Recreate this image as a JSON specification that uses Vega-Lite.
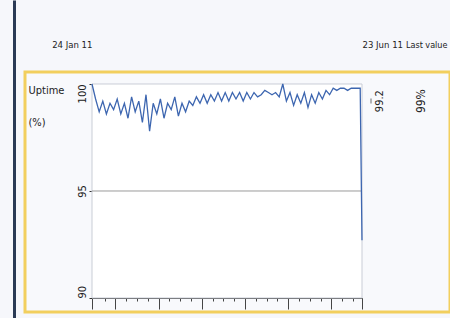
{
  "$schema": "https://vega.github.io/schema/vega-lite/v6.json",
  "width": 425,
  "height": 240,
  "autosize": "none",
  "padding": {"left": 25, "top": 72, "right": 0, "bottom": 6},
  "background": "#f6f7fb",
  "view": {"fill": "#f8f9fc", "stroke": "#f2cf5e", "strokeWidth": 3},
  "config": {
    "font": "DejaVu Sans Condensed, Liberation Sans Narrow, sans-serif",
    "axis": {"grid": false, "labelFont": "DejaVu Sans Condensed, Liberation Sans Narrow, sans-serif", "labelColor": "#222", "titleColor": "#222"}
  },
  "datasets": {
    "frame": [{"start": "2011-01-24", "end": "2011-06-23", "lo": 90, "hi": 100}],
    "grid": [{"start": "2011-01-24", "end": "2011-06-23", "level": 95}],
    "current": [{"date": "2011-06-23", "value": 99.2, "text": "99.2", "status": "99%"}],
    "series": [
      {"date": "2011-01-24", "value": 100},
      {"date": "2011-01-26", "value": 99.3},
      {"date": "2011-01-28", "value": 98.7},
      {"date": "2011-01-30", "value": 99.2},
      {"date": "2011-02-01", "value": 98.6},
      {"date": "2011-02-03", "value": 99.1},
      {"date": "2011-02-05", "value": 98.8},
      {"date": "2011-02-07", "value": 99.3},
      {"date": "2011-02-09", "value": 98.6},
      {"date": "2011-02-11", "value": 99.1},
      {"date": "2011-02-13", "value": 98.4},
      {"date": "2011-02-15", "value": 99.4},
      {"date": "2011-02-17", "value": 98.7},
      {"date": "2011-02-19", "value": 99.2},
      {"date": "2011-02-21", "value": 98.2},
      {"date": "2011-02-23", "value": 99.5},
      {"date": "2011-02-25", "value": 97.8},
      {"date": "2011-02-27", "value": 99.1},
      {"date": "2011-03-01", "value": 98.6},
      {"date": "2011-03-03", "value": 99.3},
      {"date": "2011-03-05", "value": 98.4},
      {"date": "2011-03-07", "value": 99.1},
      {"date": "2011-03-09", "value": 98.8},
      {"date": "2011-03-11", "value": 99.4},
      {"date": "2011-03-13", "value": 98.5},
      {"date": "2011-03-15", "value": 99.1},
      {"date": "2011-03-17", "value": 98.7},
      {"date": "2011-03-19", "value": 99.2},
      {"date": "2011-03-21", "value": 99.0},
      {"date": "2011-03-23", "value": 99.4},
      {"date": "2011-03-25", "value": 99.1},
      {"date": "2011-03-27", "value": 99.5},
      {"date": "2011-03-29", "value": 99.1},
      {"date": "2011-03-31", "value": 99.5},
      {"date": "2011-04-02", "value": 99.2},
      {"date": "2011-04-04", "value": 99.6},
      {"date": "2011-04-06", "value": 99.2},
      {"date": "2011-04-08", "value": 99.6},
      {"date": "2011-04-10", "value": 99.2},
      {"date": "2011-04-12", "value": 99.6},
      {"date": "2011-04-14", "value": 99.3},
      {"date": "2011-04-16", "value": 99.6},
      {"date": "2011-04-18", "value": 99.2},
      {"date": "2011-04-20", "value": 99.6},
      {"date": "2011-04-22", "value": 99.3},
      {"date": "2011-04-24", "value": 99.6},
      {"date": "2011-04-26", "value": 99.4},
      {"date": "2011-04-28", "value": 99.5},
      {"date": "2011-04-30", "value": 99.7},
      {"date": "2011-05-02", "value": 99.6},
      {"date": "2011-05-04", "value": 99.5},
      {"date": "2011-05-06", "value": 99.6},
      {"date": "2011-05-08", "value": 99.4},
      {"date": "2011-05-10", "value": 100},
      {"date": "2011-05-12", "value": 99.2},
      {"date": "2011-05-14", "value": 99.6},
      {"date": "2011-05-16", "value": 99.0},
      {"date": "2011-05-18", "value": 99.5},
      {"date": "2011-05-20", "value": 99.1},
      {"date": "2011-05-22", "value": 99.6},
      {"date": "2011-05-24", "value": 98.9},
      {"date": "2011-05-26", "value": 99.5},
      {"date": "2011-05-28", "value": 99.1},
      {"date": "2011-05-30", "value": 99.6},
      {"date": "2011-06-01", "value": 99.3},
      {"date": "2011-06-03", "value": 99.7},
      {"date": "2011-06-05", "value": 99.5},
      {"date": "2011-06-07", "value": 99.8},
      {"date": "2011-06-09", "value": 99.7},
      {"date": "2011-06-11", "value": 99.8},
      {"date": "2011-06-13", "value": 99.8},
      {"date": "2011-06-15", "value": 99.7},
      {"date": "2011-06-17", "value": 99.8},
      {"date": "2011-06-19", "value": 99.8},
      {"date": "2011-06-21", "value": 99.8},
      {"date": "2011-06-22", "value": 99.8},
      {"date": "2011-06-23", "value": 92.7}
    ]
  },
  "resolve": {"axis": {"x": "independent", "y": "independent"}},
  "layer": [
    {
      "data": {"name": "frame"},
      "mark": {"type": "rect", "fill": "white", "stroke": "#c9cdd6", "strokeWidth": 1},
      "encoding": {
        "x": {
          "field": "start", "type": "temporal",
          "scale": {"type": "utc", "domain": [{"year": 2011, "month": 1, "date": 24, "utc": true}, {"year": 2011, "month": 6, "date": 23, "utc": true}], "range": [67, 337], "nice": false},
          "axis": {
            "orient": "bottom", "offset": -14, "title": null, "labels": false,
            "domainColor": "#333", "tickColor": "#444", "tickWidth": 1,
            "values": [
              {"year": 2011, "month": 1, "date": 24, "utc": true},
              {"year": 2011, "month": 1, "date": 31, "utc": true},
              {"year": 2011, "month": 2, "date": 6, "utc": true},
              {"year": 2011, "month": 2, "date": 12, "utc": true},
              {"year": 2011, "month": 2, "date": 18, "utc": true},
              {"year": 2011, "month": 2, "date": 24, "utc": true},
              {"year": 2011, "month": 3, "date": 2, "utc": true},
              {"year": 2011, "month": 3, "date": 8, "utc": true},
              {"year": 2011, "month": 3, "date": 14, "utc": true},
              {"year": 2011, "month": 3, "date": 20, "utc": true},
              {"year": 2011, "month": 3, "date": 26, "utc": true},
              {"year": 2011, "month": 4, "date": 1, "utc": true},
              {"year": 2011, "month": 4, "date": 7, "utc": true},
              {"year": 2011, "month": 4, "date": 13, "utc": true},
              {"year": 2011, "month": 4, "date": 19, "utc": true},
              {"year": 2011, "month": 4, "date": 25, "utc": true},
              {"year": 2011, "month": 5, "date": 1, "utc": true},
              {"year": 2011, "month": 5, "date": 7, "utc": true},
              {"year": 2011, "month": 5, "date": 13, "utc": true},
              {"year": 2011, "month": 5, "date": 19, "utc": true},
              {"year": 2011, "month": 5, "date": 25, "utc": true},
              {"year": 2011, "month": 5, "date": 31, "utc": true},
              {"year": 2011, "month": 6, "date": 6, "utc": true},
              {"year": 2011, "month": 6, "date": 12, "utc": true},
              {"year": 2011, "month": 6, "date": 18, "utc": true},
              {"year": 2011, "month": 6, "date": 23, "utc": true}
            ],
            "tickSize": {"condition": {"test": "indexof([0,13,37,61,85,109,133,150], round((datum.value - utc(2011,0,24)) / 864e5)) >= 0", "value": 11}, "value": 3}
          }
        },
        "x2": {"field": "end"},
        "y": {
          "field": "lo", "type": "quantitative",
          "scale": {"domain": [89.065, 103.925], "range": [246, -72], "nice": false, "zero": false},
          "axis": {
            "orient": "left", "offset": -67, "domain": false, "values": [90, 95, 100],
            "tickSize": 3, "tickColor": "#333", "labelPadding": 2,
            "labelAngle": 270, "labelFontSize": 11, "labelBaseline": "bottom",
            "labelAlign": {"condition": [{"test": "datum.value == 100", "value": "right"}, {"test": "datum.value == 90", "value": "left"}], "value": "center"},
            "title": ["Uptime", "(%)"], "titleAngle": 0, "titleX": -64, "titleY": 12,
            "titleAlign": "left", "titleBaseline": "top", "titleFontWeight": "normal",
            "titleFontSize": 11, "titleLineHeight": 32,
            "titleFont": "DejaVu Sans Condensed, Liberation Sans Narrow, sans-serif"
          }
        },
        "y2": {"field": "hi"}
      }
    },
    {
      "data": {"name": "grid"},
      "mark": {"type": "rule", "color": "#9a9a9a", "strokeWidth": 1},
      "encoding": {
        "x": {"field": "start", "type": "temporal", "axis": null},
        "x2": {"field": "end"},
        "y": {
          "field": "level", "type": "quantitative",
          "axis": {"orient": "left", "offset": 11, "domainColor": "#2b3a55", "domainWidth": 3, "ticks": false, "labels": false, "title": null}
        }
      }
    },
    {
      "data": {"name": "series"},
      "mark": {"type": "line", "color": "#3d66b0", "strokeWidth": 1.3},
      "encoding": {
        "x": {
          "field": "date", "type": "temporal",
          "axis": {
            "orient": "top", "title": "Last value", "domain": false, "ticks": false, "tickSize": 0,
            "values": [{"year": 2011, "month": 1, "date": 24, "utc": true}, {"year": 2011, "month": 6, "date": 23, "utc": true}],
            "labelExpr": "utcFormat(datum.value, '%d %b %y')",
            "labelPadding": 23, "labelFontSize": 9.5, "labelBaseline": "bottom",
            "labelAlign": {"condition": {"test": "datum.value < utc(2011,3,1)", "value": "right"}, "value": "left"},
            "titleX": 422, "titleY": -23, "titleAlign": "right", "titleBaseline": "bottom",
            "titleFontWeight": "normal", "titleFontSize": 9, "titleAngle": 0,
            "titleFont": "DejaVu Sans Condensed, Liberation Sans Narrow, sans-serif"
          }
        },
        "y": {"field": "value", "type": "quantitative", "axis": null}
      }
    },
    {
      "data": {"name": "current"},
      "mark": {"type": "text", "angle": 270, "align": "center", "baseline": "middle", "fontSize": 11, "color": "#222", "xOffset": 18},
      "encoding": {
        "x": {"field": "date", "type": "temporal", "axis": null},
        "y": {"field": "value", "type": "quantitative", "axis": null},
        "text": {"field": "text"}
      }
    },
    {
      "data": {"name": "current"},
      "mark": {"type": "tick", "orient": "vertical", "size": 5, "thickness": 1, "color": "#333", "xOffset": 9},
      "encoding": {
        "x": {"field": "date", "type": "temporal", "axis": null},
        "y": {"field": "value", "type": "quantitative", "axis": null}
      }
    },
    {
      "data": {"name": "current"},
      "mark": {"type": "text", "angle": 270, "align": "center", "baseline": "middle", "fontSize": 12, "color": "#222", "xOffset": 59},
      "encoding": {
        "x": {"field": "date", "type": "temporal", "axis": null},
        "y": {"field": "value", "type": "quantitative", "axis": null},
        "text": {"field": "status"}
      }
    }
  ]
}
